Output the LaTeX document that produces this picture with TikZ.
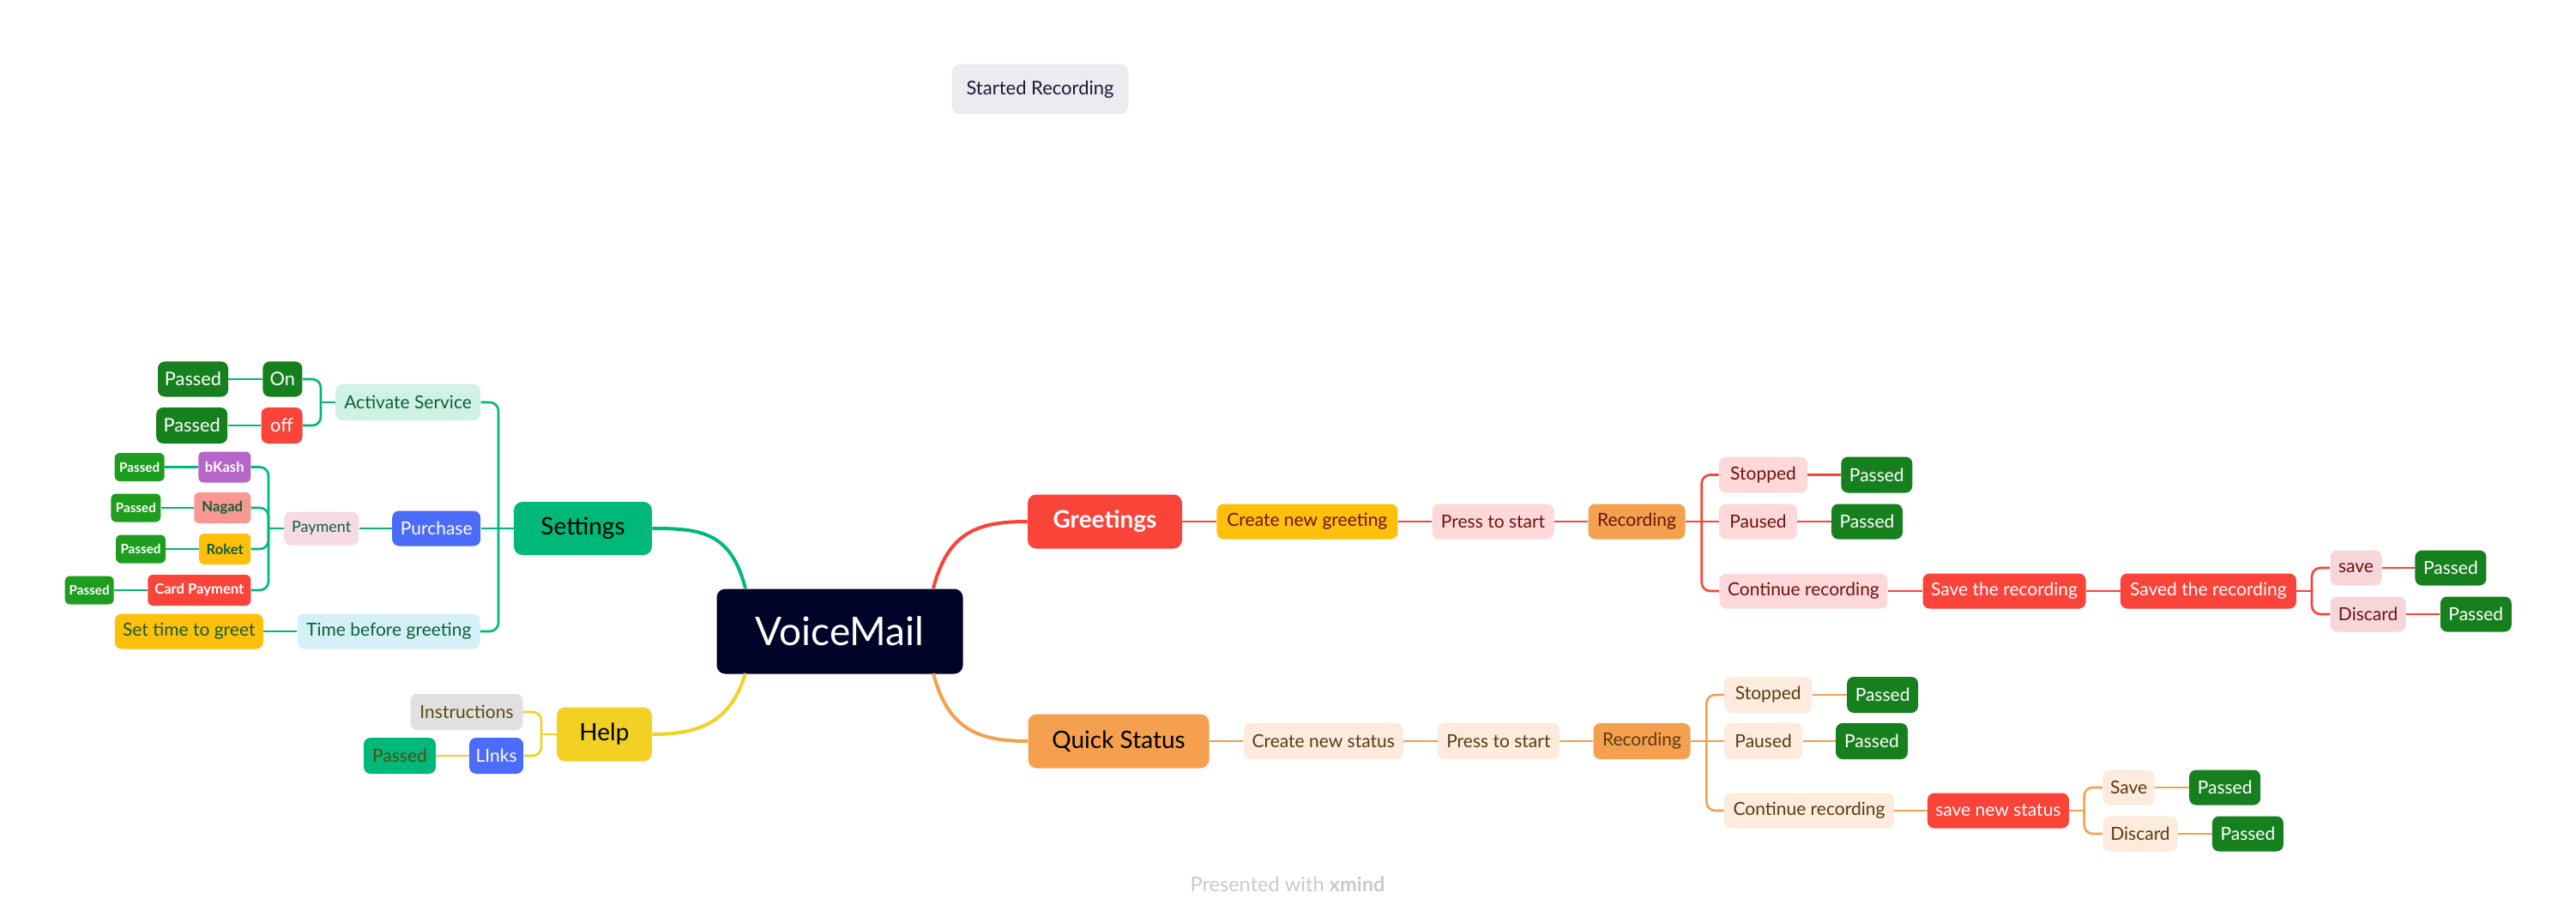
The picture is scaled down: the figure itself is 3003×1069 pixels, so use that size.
\documentclass[tikz,border=0pt]{standalone}
\usepackage{fontspec}
\setmainfont{Lato}
\definecolor{xred}{HTML}{FA4339}
\definecolor{xgreen}{HTML}{00B87A}
\definecolor{xdkgreen}{HTML}{17801E}
\definecolor{xbrgreen}{HTML}{1E9E1E}
\definecolor{xyellow}{HTML}{FEC00A}
\definecolor{xhelpy}{HTML}{F2D124}
\definecolor{xorange}{HTML}{F5A04E}
\definecolor{xnavy}{HTML}{000328}
\definecolor{xblue}{HTML}{4B6BFB}
\definecolor{xpurple}{HTML}{B566C8}
\definecolor{xsalmon}{HTML}{F99791}
\definecolor{xmint}{HTML}{CFF2E4}
\definecolor{xpinkp}{HTML}{F6DAE6}
\definecolor{xltblue}{HTML}{D5F1F8}
\definecolor{xgray}{HTML}{E0E0E0}
\definecolor{xpink}{HTML}{FFD9D9}
\definecolor{xpinkb}{HTML}{F7D6D9}
\definecolor{xpeach}{HTML}{FDEBDD}
\definecolor{xsr}{HTML}{ECEBEF}
\definecolor{tgreen}{HTML}{0F5E3C}
\definecolor{tred}{HTML}{6B1212}
\definecolor{tbrown}{HTML}{5A3A14}
\definecolor{tolive}{HTML}{5C4A10}
\definecolor{tnavy}{HTML}{1A1A3A}
\definecolor{xfoot}{HTML}{CACACA}
\tikzset{
  base/.style={rectangle, rounded corners=4pt, inner sep=0pt, align=center, font=\fontsize{10.5}{12}\selectfont},
  sz/.style 2 args={minimum width=#1*0.5pt, minimum height=#2*0.5pt},
  lone/.style={base, rounded corners=5pt, font=\fontsize{14}{16}\selectfont},
  small/.style={base, rounded corners=3pt, font=\fontsize{8.3}{10}\selectfont\bfseries},
  smallpass/.style={base, rounded corners=3pt, font=\fontsize{7.6}{9}\selectfont\bfseries, fill=xbrgreen, text=white, sz={58}{33}},
  pass/.style={base, fill=xdkgreen, text=white, sz={83}{41}},
  gsub/.style={base, fill=xpink, text=tred},
  qsub/.style={base, fill=xpeach, text=tbrown},
  cg/.style={line width=1.3pt, draw=xgreen, rounded corners=5pt},
  cr/.style={line width=1.3pt, draw=xred, rounded corners=5pt},
  co/.style={line width=1.3pt, draw=xorange, rounded corners=5pt},
  cy/.style={line width=1.3pt, draw=xhelpy, rounded corners=5pt},
  mainc/.style={line width=2pt}
}
\begin{document}
\begin{tikzpicture}[x=0.5pt, y=-0.5pt]
\fill[white] (0,0) rectangle (3003,1069);
\useasboundingbox (0,0) rectangle (3003,1069);

% ---------- centre and main topics ----------
\node[base, sz={287}{99}, rounded corners=5pt, fill=xnavy, text=white, font=\fontsize{23}{26}\selectfont] (vm) at (979,736) {VoiceMail};
\node[lone, sz={180}{63}, fill=xred, text=white, font=\fontsize{14}{16}\selectfont\bfseries] (gr) at (1288,608) {Greetings};
\node[lone, sz={211}{63}, fill=xorange, text=black] (qs) at (1304,864) {Quick Status};
\node[lone, sz={161}{62}, fill=xgreen, text=black] (set) at (679.5,616) {Settings};
\node[lone, sz={111}{63}, fill=xhelpy, text=black] (hlp) at (704.5,856) {Help};

% floating topic
\node[base, sz={206}{58}, rounded corners=5pt, fill=xsr, text=tnavy, font=\fontsize{11}{13}\selectfont] (sr) at (1212.5,104) {Started Recording};

% ---------- Settings branch ----------
\node[base, sz={169}{42}, fill=xmint, text=tgreen] (act) at (475.6,469) {Activate Service};
\node[base, sz={46}{41}, fill=xdkgreen, text=white, font=\fontsize{10.9}{12}\selectfont] (on) at (329.4,442) {On};
\node[base, sz={48}{42}, fill=xred, text=white, font=\fontsize{10.9}{12}\selectfont] (off) at (328.5,496) {off};
\node[pass, sz={82}{41}, font=\fontsize{10.9}{12}\selectfont] (sp1) at (225,442) {Passed};
\node[pass, sz={83}{42}, font=\fontsize{10.9}{12}\selectfont] (sp2) at (223.7,496) {Passed};
\node[base, sz={103}{41}, fill=xblue, text=white] (pur) at (508.7,616) {Purchase};
\node[base, sz={87}{39}, fill=xpinkp, text=tgreen, font=\fontsize{9}{11}\selectfont] (pay) at (374.7,616) {Payment};
\node[small, sz={61}{36}, fill=xpurple, text=white] (bk) at (261.8,544.5) {bKash};
\node[small, sz={66}{36}, fill=xsalmon, text=tgreen] (ng) at (259.3,592) {Nagad};
\node[small, sz={60}{36}, fill=xyellow, text=tgreen] (rk) at (262.2,640) {Roket};
\node[small, sz={120}{36}, fill=xred, text=white] (cp) at (232.3,688) {Card Payment};
\node[smallpass] (pb1) at (162.7,544.5) {Passed};
\node[smallpass] (pb2) at (158.4,592) {Passed};
\node[smallpass] (pb3) at (164,640) {Passed};
\node[smallpass, sz={57}{33}] (pb4) at (104.2,688) {Passed};
\node[base, sz={213}{41}, fill=xltblue, text=tgreen] (tbg) at (453.3,736) {Time before greeting};
\node[base, sz={173}{41}, fill=xyellow, text=tgreen] (stg) at (220.3,736) {Set time to greet};

% ---------- Help branch ----------
\node[base, sz={131}{42}, fill=xgray, text=tolive] (ins) at (544,830) {Instructions};
\node[base, sz={63}{42}, fill=xblue, text=white] (lnk) at (578.6,881) {LInks};
\node[base, sz={84}{42}, fill=xgreen, text=tolive] (hp) at (466,881) {Passed};

% ---------- Greetings branch ----------
\node[base, sz={211}{41}, fill=xyellow, text=tred] (cng) at (1523.9,608) {Create new greeting};
\node[gsub, sz={142}{41}] (pts1) at (1740.6,608) {Press to start};
\node[base, sz={113}{41}, fill=xorange, text=tred] (rec1) at (1908,608) {Recording};
\node[gsub, sz={103}{42}] (st1) at (2055.5,553.5) {Stopped};
\node[pass, sz={83}{42}] (gp1) at (2187.8,553.5) {Passed};
\node[gsub, sz={91}{41}] (pa1) at (2049.5,608) {Paused};
\node[pass] (gp2) at (2176.5,608) {Passed};
\node[gsub, sz={196}{41}] (cr1) at (2102.4,689) {Continue recording};
\node[base, sz={190}{41}, fill=xred, text=white] (str) at (2336.5,689) {Save the recording};
\node[base, sz={205}{41}, fill=xred, text=white] (sdr) at (2574.4,689) {Saved the recording};
\node[gsub, sz={60}{41}, fill=xpinkb] (sv1) at (2746.5,662) {save};
\node[pass] (gp3) at (2856.9,662) {Passed};
\node[gsub, sz={88}{41}, fill=xpinkb] (dc1) at (2760.6,716) {Discard};
\node[pass] (gp4) at (2886.3,716) {Passed};

% ---------- Quick Status branch ----------
\node[qsub, sz={186}{42}] (cns) at (1542.8,864) {Create new status};
\node[qsub, sz={142}{42}] (pts2) at (1746.9,864) {Press to start};
\node[base, sz={113}{42}, fill=xorange, text=tbrown] (rec2) at (1914,864) {Recording};
\node[qsub, sz={102}{42}] (st2) at (2061.2,810) {Stopped};
\node[pass, sz={83}{42}] (qp1) at (2194.6,810) {Passed};
\node[qsub, sz={91}{42}] (pa2) at (2055.6,864) {Paused};
\node[pass, sz={84}{42}] (qp2) at (2182,864) {Passed};
\node[qsub, sz={198}{41}] (cr2) at (2109,945) {Continue recording};
\node[base, sz={165}{41}, fill=xred, text=white] (sns) at (2329.4,945) {save new status};
\node[qsub, sz={60}{41}] (sv2) at (2481.6,918) {Save};
\node[pass] (qp3) at (2593.6,918) {Passed};
\node[qsub, sz={87}{41}] (dc2) at (2495,972) {Discard};
\node[pass] (qp4) at (2620.4,972) {Passed};

% footer
\node[font=\fontsize{11.8}{14}\selectfont, text=xfoot, inner sep=0pt] (foot) at (1501,1031) {Presented with \textbf{xmind}};

% ---------- bus coordinates ----------
\coordinate (bset) at (581,0);
\coordinate (bact) at (374,0);
\coordinate (bpay) at (313,0);
\coordinate (bhlp) at (631,0);
\coordinate (brec1) at (1983.7,0);
\coordinate (bsdr) at (2695,0);
\coordinate (brec2) at (1989.4,0);
\coordinate (bsns) at (2429.6,0);

% ---------- main curves ----------
\coordinate (vmtl) at (869,686);
\coordinate (vmtr) at (1088,686);
\coordinate (vmbl) at (869,785);
\coordinate (vmbr) at (1088,785);
\draw[mainc, draw=xgreen] (vmtl) .. controls (852,620) and (817,616) .. (set.east);
\draw[mainc, draw=xred] (vmtr) .. controls (1105,620) and (1140,608) .. (gr.west);
\draw[mainc, draw=xhelpy] (vmbl) .. controls (852,842) and (815,856) .. (hlp.east);
\draw[mainc, draw=xorange] (vmbr) .. controls (1105,850) and (1140,864) .. (qs.west);

% ---------- Settings connectors ----------
\draw[cg] (set.west) -- (pur.east);
\draw[cg] (set.west -| bset) |- (act.east);
\draw[cg] (set.west -| bset) |- (tbg.east);
\draw[cg] (act.west) -- (act.west -| bact);
\draw[cg] (act.west -| bact) |- (on.east);
\draw[cg] (act.west -| bact) |- (off.east);
\draw[cg] (on.west) -- (sp1.east);
\draw[cg] (off.west) -- (sp2.east);
\draw[cg] (pur.west) -- (pay.east);
\draw[cg] (pay.west) -- (pay.west -| bpay);
\foreach \c in {bk,ng,rk,cp} { \draw[cg] (pay.west -| bpay) |- (\c.east); }
\draw[cg] (bk.west) -- (pb1.east);
\draw[cg] (ng.west) -- (pb2.east);
\draw[cg] (rk.west) -- (pb3.east);
\draw[cg] (cp.west) -- (pb4.east);
\draw[cg] (tbg.west) -- (stg.east);

% ---------- Help connectors ----------
\draw[cy] (hlp.west) -- (hlp.west -| bhlp);
\draw[cy] (hlp.west -| bhlp) |- (ins.east);
\draw[cy] (hlp.west -| bhlp) |- (lnk.east);
\draw[cy] (lnk.west) -- (hp.east);

% ---------- Greetings connectors ----------
\draw[cr] (gr.east) -- (cng.west);
\draw[cr] (cng.east) -- (pts1.west);
\draw[cr] (pts1.east) -- (rec1.west);
\draw[cr] (rec1.east) -- (pa1.west);
\draw[cr] (rec1.east -| brec1) |- (st1.west);
\draw[cr] (rec1.east -| brec1) |- (cr1.west);
\draw[cr] (st1.east) -- (gp1.west);
\draw[cr] (pa1.east) -- (gp2.west);
\draw[cr] (cr1.east) -- (str.west);
\draw[cr] (str.east) -- (sdr.west);
\draw[cr] (sdr.east) -- (sdr.east -| bsdr);
\draw[cr] (sdr.east -| bsdr) |- (sv1.west);
\draw[cr] (sdr.east -| bsdr) |- (dc1.west);
\draw[cr] (sv1.east) -- (gp3.west);
\draw[cr] (dc1.east) -- (gp4.west);

% ---------- Quick Status connectors ----------
\draw[co] (qs.east) -- (cns.west);
\draw[co] (cns.east) -- (pts2.west);
\draw[co] (pts2.east) -- (rec2.west);
\draw[co] (rec2.east) -- (pa2.west);
\draw[co] (rec2.east -| brec2) |- (st2.west);
\draw[co] (rec2.east -| brec2) |- (cr2.west);
\draw[co] (st2.east) -- (qp1.west);
\draw[co] (pa2.east) -- (qp2.west);
\draw[co] (cr2.east) -- (sns.west);
\draw[co] (sns.east) -- (sns.east -| bsns);
\draw[co] (sns.east -| bsns) |- (sv2.west);
\draw[co] (sns.east -| bsns) |- (dc2.west);
\draw[co] (sv2.east) -- (qp3.west);
\draw[co] (dc2.east) -- (qp4.west);
\end{tikzpicture}
\end{document}
